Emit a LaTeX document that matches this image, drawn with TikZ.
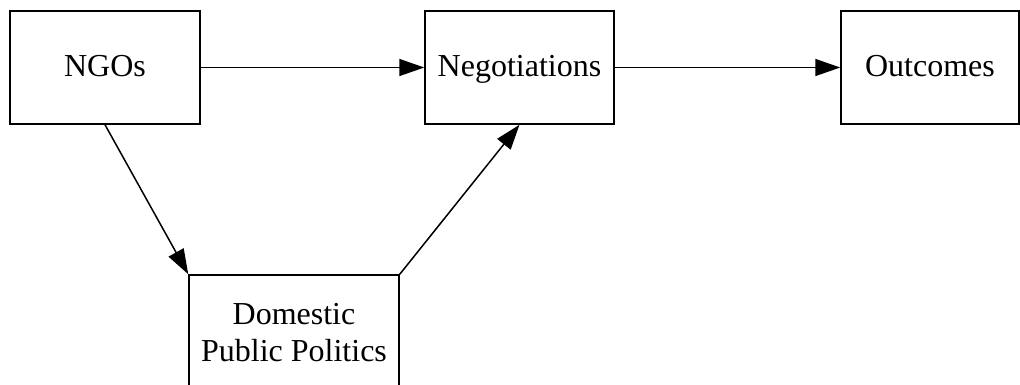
\documentclass[tikz,border=0pt]{standalone}
\usepackage{fontspec}
\setmainfont{Liberation Serif}
\usetikzlibrary{arrows.meta}
\begin{document}
\begin{tikzpicture}[x=1pt,y=-1pt,
  box/.style={draw, line width=1.5pt, rectangle, inner sep=0pt, align=center,
    font=\fontsize{32}{37}\selectfont},
  onel/.style={text height=24pt, text depth=5pt},
  conn/.style={line width=1.5pt, -{Triangle[length=25pt,width=17pt]}}]
\useasboundingbox (0,0) rectangle (1020,385);
\clip (0,0) rectangle (1020,385);
\node[box, onel, minimum width=190pt, minimum height=113pt] (ngo) at (105,67.5) {NGOs};
\node[box, onel, minimum width=189pt, minimum height=113pt] (neg) at (519.5,67.5) {Negotiations};
\node[box, onel, minimum width=178pt, minimum height=113pt] (out) at (930,67.5) {Outcomes};
\node[box, minimum width=210pt, minimum height=116pt] (dom) at (294,333) {Domestic\\Public Politics};
\draw[conn] (ngo.east) -- (neg.west);
\draw[conn] (neg.east) -- (out.west);
\draw[conn] (ngo.south) -- (dom.north west);
\draw[conn] (dom.north east) -- (neg.south);
\end{tikzpicture}
\end{document}
